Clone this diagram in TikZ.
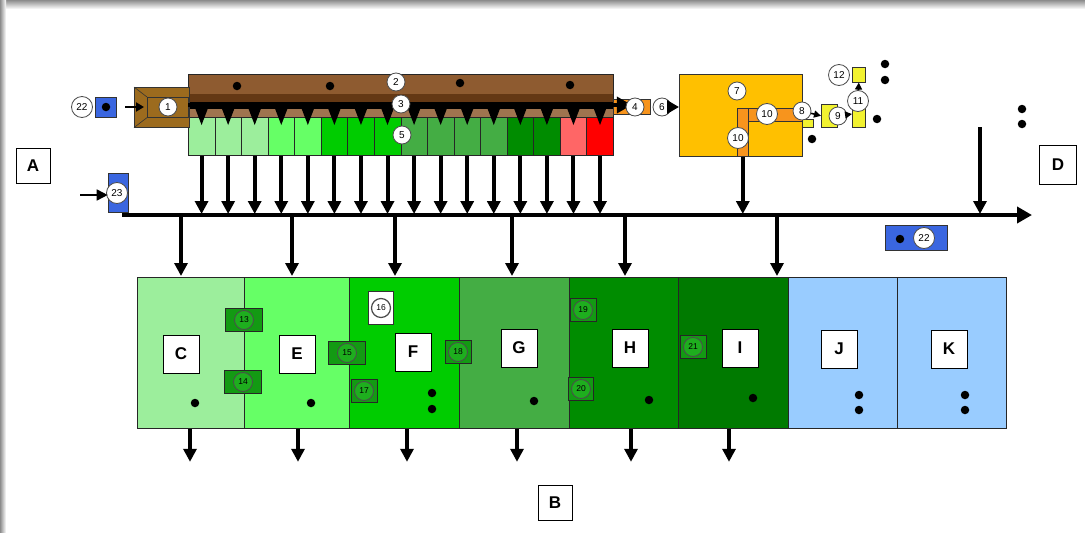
\documentclass[tikz,border=0pt]{standalone}
\usepackage{fontspec}
\setsansfont{Liberation Sans}
\usetikzlibrary{arrows.meta, positioning}
\definecolor{BarBrown}{HTML}{8E5B30}
\definecolor{DeepBrown}{HTML}{643814}
\definecolor{FeedBrown}{HTML}{9C6B1E}
\definecolor{CLight}{HTML}{9CEE9C}
\definecolor{ELight}{HTML}{66FF66}
\definecolor{FGreen}{HTML}{00CC00}
\definecolor{GGreen}{HTML}{44AD44}
\definecolor{HGreen}{HTML}{008C00}
\definecolor{IGreen}{HTML}{007A00}
\definecolor{Pink}{HTML}{FF6666}
\definecolor{Sky}{HTML}{99CCFF}
\definecolor{Amber}{HTML}{FFC000}
\definecolor{Pipe}{HTML}{F7941D}
\definecolor{Lemon}{HTML}{F2F230}
\definecolor{Cobalt}{HTML}{3A66E0}
\definecolor{Badge}{HTML}{139A13}
\definecolor{BadgeRing}{HTML}{1EAE1E}

\begin{document}
\begin{tikzpicture}[x=1pt, y=-1pt,
  font=\sffamily,
  flow/.style={-{Triangle[length=13pt,width=13pt]}, line width=4pt, shorten >=1pt},
  thin/.style={-{Triangle[length=7pt,width=7pt]}, line width=1.6pt},
  num/.style={circle, draw=black!70, fill=white, line width=0.8pt, inner sep=0pt,
              minimum size=18pt, font=\sffamily\fontsize{10}{10}\selectfont},
  gnum/.style={num, fill=BadgeRing, minimum size=19pt, text=black,
               font=\sffamily\fontsize{8.5}{8.5}\selectfont},
  letter/.style={draw=black, fill=white, line width=0.7pt, inner sep=0pt,
                 minimum width=36pt, minimum height=38pt,
                 font=\sffamily\bfseries\fontsize{17}{17}\selectfont},
  zone/.style={draw=black!85, line width=0.8pt, minimum height=151pt,
               inner sep=0pt, anchor=north west},
  cell/.style={draw=black!85, line width=0.6pt, minimum width=26.5625pt,
               minimum height=38pt, inner sep=0pt, anchor=north west},
  badge/.style={draw=black!85, fill=Badge, line width=0.6pt, inner sep=0pt,
                minimum height=23pt},
  bit/.style={draw=black!80, line width=0.6pt, inner sep=0pt},
  dot/.style={circle, fill=black, inner sep=0pt, minimum size=8.5pt},
]
\useasboundingbox (0,0) rectangle (1085,533);
\fill[white] (0,0) rectangle (1085,533);
\shade[top color=black!45, bottom color=white] (0,0) rectangle (1085,9);
\shade[left color=black!45, right color=white] (0,0) rectangle (6,533);

% pulper and screen
\node[bit, fill=BarBrown, minimum width=425pt, minimum height=20pt, anchor=north west] (bar) at (188,74) {};
\fill[DeepBrown] (188,94) rectangle (613,103);
\fill[BarBrown!85] (188,108) rectangle (613,117);
\foreach \i/\c in {1/CLight,2/CLight,3/CLight,4/ELight,5/ELight,6/FGreen,7/FGreen,8/FGreen,
                   9/GGreen,10/GGreen,11/GGreen,12/GGreen,13/HGreen,14/HGreen,15/Pink,16/red}
  \node[cell, fill=\c] (cell\i) at ({188+26.5625*(\i-1)},117) {};
\fill[black] (188,102) rectangle (613,109);
\foreach \i in {1,...,16}
  \fill[black] (cell\i.north) ++(-8,-13) -- ++(16,0) -- ++(-8,21) -- cycle;
\draw[black!85, line width=0.6pt] (188,74) rectangle (613,155);

\node[bit, fill=FeedBrown, minimum width=55pt, minimum height=40pt, anchor=north west] (feed) at (134,87) {};
\node[bit, fill=FeedBrown, minimum width=41pt, minimum height=20pt, anchor=north west] (feedin) at (147,97) {};
\draw[black!80, line width=0.6pt] (feed.north west) -- (feedin.north west)
  (feed.south west) -- (feedin.south west);

\node[bit, fill=Pipe, minimum width=37pt, minimum height=15pt, anchor=north west] (outlet) at (613,99) {};
\coordinate (scr) at (188,105);
\draw[-{Triangle[length=15pt,width=16pt]}, line width=4pt] (scr) -- (outlet.center |- scr);

\node[bit, fill=Cobalt, minimum width=21pt, minimum height=20pt] (blue1) at (106,107) {};
\node[bit, fill=Cobalt, minimum width=20pt, minimum height=39pt] (blue2) at (118,193) {};
\node[bit, fill=Cobalt, minimum width=62pt, minimum height=25pt] (blue3) at (916,238) {};

% reactor
\node[bit, fill=Amber, minimum width=123pt, minimum height=82pt, anchor=north west] (reactor) at (679,74) {};
\node[bit, fill=Pipe, minimum width=65pt, minimum height=13pt, anchor=north west] (pipeh) at (737,108) {};
\node[bit, fill=Pipe, minimum width=11pt, minimum height=48pt, anchor=north west] (pipev) at (737,108) {};
\fill[Pipe] (738,109) rectangle (747,120);
\node[bit, fill=Lemon, minimum width=11pt, minimum height=8pt, anchor=north west] (y8) at (802,119) {};
\node[bit, fill=Lemon, minimum width=16pt, minimum height=23pt, anchor=north west] (y9) at (821,104) {};
\node[bit, fill=Lemon, minimum width=13pt, minimum height=19pt, anchor=north west] (y11) at (852,108) {};
\node[bit, fill=Lemon, minimum width=13pt, minimum height=15pt, anchor=north west] (y12) at (852,67) {};

% numbers
\node[num] (n1) at (168,107) {1};
\node[num] (n2) at (396,82) {2};
\node[num] (n3) at (401,104) {3};
\node[num] (n5) at (402,135) {5};
\node[num] (n4) at (635,107) {4};
\node[num] (n6) at (662,107) {6};
\node[num] (n7) at (737,91) {7};
\node[num, minimum size=21pt] (n10a) at (767,114) {10};
\node[num, minimum size=21pt] (n10b) at (738,138) {10};
\node[num] (n8) at (802,111) {8};
\node[num] (n9) at (838,116) {9};
\node[num, minimum size=21pt] (n11) at (858,101) {11};
\node[num, minimum size=21pt] (n12) at (839,75) {12};
\node[num, minimum size=21pt] (n22a) at (82,107) {22};
\node[num, minimum size=21pt] (n23) at (117,193) {23};
\node[num, minimum size=21pt] (n22b) at (924,238) {22};

\draw[thin] (n8) -- (y9.west);
\draw[thin] (n9) -- (y11.west |- 0,114);
\draw[thin] (n11) -- (y12.south);
\draw[-{Triangle[length=12pt,width=13pt]}, line width=4pt] (n6) -- (reactor.west |- n6);
\coordinate (in1) at (125,107);
\draw[-{Triangle[length=8pt,width=9pt]}, line width=1.8pt] (in1) -- ([xshift=-3pt]feedin.west |- in1);
\coordinate (in23) at (80,195);
\draw[-{Triangle[length=11pt,width=11pt]}, line width=1.6pt] (in23) -- (blue2.west |- in23);

% main header
\coordinate (bus) at (122,215);
\coordinate (busend) at (1032,215);
\draw[-{Triangle[length=15pt,width=16pt]}, line width=4pt] (bus) -- (busend);
\foreach \i in {1,...,16}
  \draw[flow] (cell\i.south) -- (cell\i.south |- bus);
\draw[flow] (pipev.south) -- (pipev.south |- bus);
\coordinate (feedD) at (980,127);
\draw[flow] (feedD) -- (feedD |- bus);

% sections
\foreach \n/\xa/\w/\c in {C/137/107/CLight, E/244/105/ELight, F/349/110/FGreen, G/459/110/GGreen,
                          H/569/109/HGreen, I/678/110/IGreen, J/788/109/Sky, K/897/109/Sky}
  \node[zone, fill=\c, minimum width=\w pt] (z\n) at (\xa,277) {};
\foreach \n/\xa in {C/181, E/292, F/395, G/512, H/625, I/777}
  \draw[flow] (\xa,0 |- bus) -- (\xa,0 |- z\n.north);
\foreach \n/\xa in {C/190, E/298, F/407, G/517, H/631, I/729}
  \draw[flow] (\xa,0 |- z\n.south) -- ++(0,34);

\foreach \n/\xa/\ya in {C/181/354, E/297/354, F/413/352, G/519/348, H/630/348, I/740/348, J/839/349, K/949/349}
  \node[letter] (l\n) at (\xa,\ya) {\n};
\node[letter, minimum width=34pt, minimum height=35pt] (lA) at (33,166) {A};
\node[letter, minimum width=37pt, minimum height=39pt] (lD) at (1058,165) {D};
\node[letter, minimum width=34pt, minimum height=35pt] (lB) at (555,503) {B};

% badges
\foreach \k/\xa/\ya/\w in {13/244/320/37, 14/243/382/37, 15/347/353/37, 17/364/391/26,
                           18/458/352/26, 19/583/310/26, 20/581/389/25, 21/693/347/26} {
  \node[badge, minimum width=\w pt] (b\k) at (\xa,\ya) {};
  \node[gnum] (g\k) at (b\k) {\k};
}
\node[bit, fill=white, minimum width=25pt, minimum height=33pt] (b16) at (381,308) {};
\node[num, line width=1.2pt, minimum size=19pt, font=\sffamily\fontsize{8.5}{8.5}\selectfont] (g16) at (b16) {16};

\foreach \xa/\ya [count=\k] in {237/86, 330/86, 460/83, 570/85, 106/107, 900/239,
                                885/64, 885/80, 877/119, 812/139, 1022/109, 1022/124,
                                195/403, 311/403, 432/393, 432/409, 534/401, 649/400,
                                753/398, 859/395, 859/410, 965/395, 965/410}
  \node[dot] (dot\k) at (\xa,\ya) {};
\end{tikzpicture}
\end{document}
